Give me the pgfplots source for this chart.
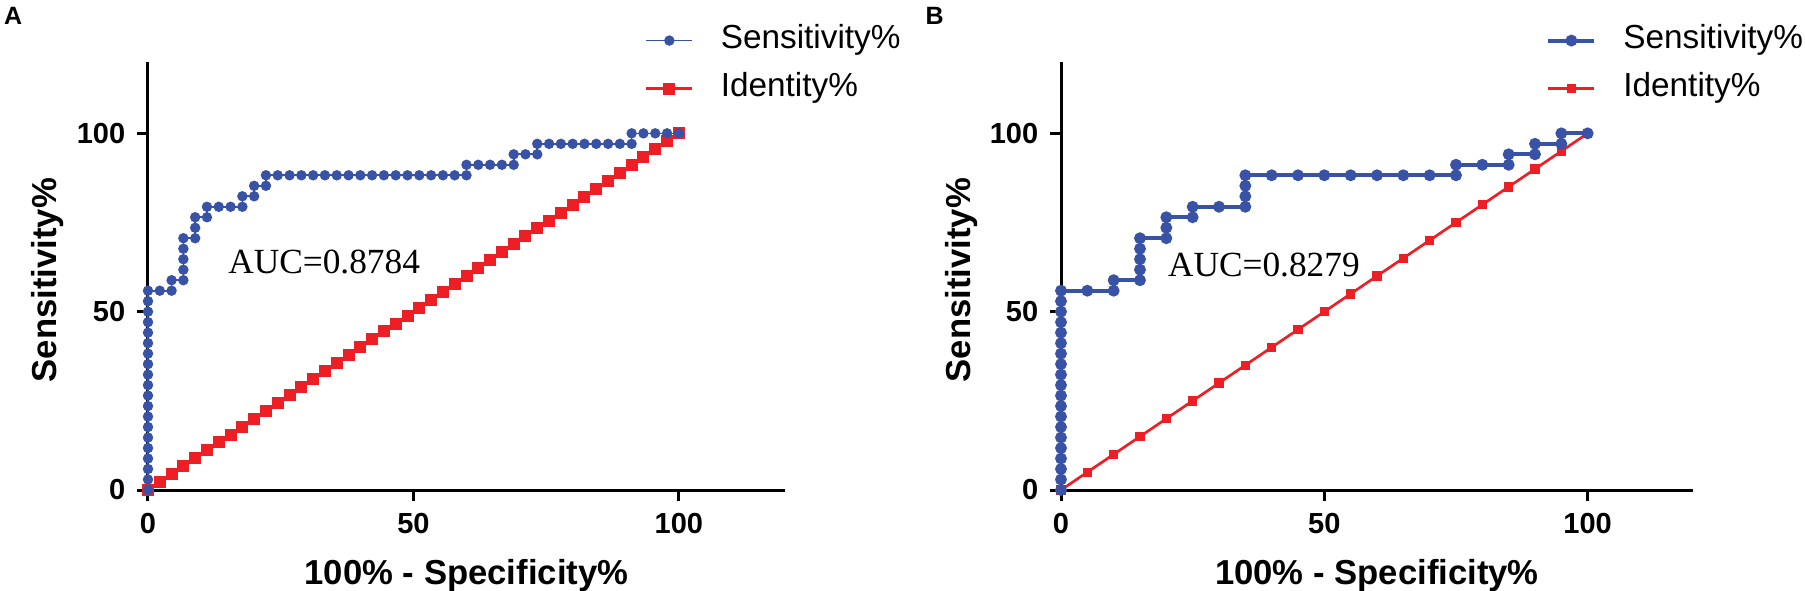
\documentclass[border=0pt]{standalone}
\usepackage{pgfplots}
\pgfplotsset{compat=1.18}
\usepackage{fontspec}
\setmainfont{Liberation Sans}
\newfontfamily\timesfont{Liberation Serif}
\definecolor{rocblue}{RGB}{56,82,166}
\definecolor{rocred}{RGB}{237,30,36}
\pgfplotsset{
  rocax/.style={
    scale only axis, height=128.4pt,
    xmin=0,xmax=120,ymin=0,ymax=120,
    axis x line=bottom, axis y line=left,
    axis line style={line width=0.9pt,-},
    xtick={0,50,100}, ytick={0,50,100},
    tick style={line width=0.9pt,black},
    tick align=outside, major tick length=3.3pt,
    /pgf/number format/assume math mode=true,
    ticklabel style={font=\bfseries\fontsize{8.7}{10}\selectfont},
    xlabel={100\% - Specificity\%}, ylabel={Sensitivity\%},
    every axis x label/.style={at={(axis description cs:0.5,-0.2)},anchor=center,
      font=\bfseries\fontsize{10.4}{12}\selectfont},
    every axis y label/.style={at={(axis description cs:-0.158,0.49)},anchor=center,rotate=90,
      font=\bfseries\fontsize{10.4}{12}\selectfont},
    clip=false,
    legend style={draw=none,fill=none,anchor=north west,inner sep=0pt,outer sep=0pt,
      font=\fontsize{10}{12}\selectfont, nodes={inner sep=0pt,outer sep=0pt,text height=7.5pt,text depth=2.5pt},
      column sep=8.1pt, row sep=4.4pt},
    legend cell align=left,
    legend image code/.code={\draw[mark repeat=2,mark phase=2,##1] plot coordinates {(0pt,0pt)(6.9pt,0pt)(13.8pt,0pt)};},
  },
}
\begin{document}
\begin{tikzpicture}
\useasboundingbox (0,0) rectangle (541.5pt,177pt);
\node[anchor=north west,inner sep=0pt,font=\bfseries\fontsize{7.5}{9}\selectfont] at (1pt,175pt) {A};
\node[anchor=north west,inner sep=0pt,font=\bfseries\fontsize{7.5}{9}\selectfont] at (277.5pt,175pt) {B};
% Panel A
\begin{axis}[rocax, width=191.1pt, at={(44.4pt,30pt)}, anchor=south west,
  legend style={at={(axis description cs:0.78,1.089)}}]
\addlegendimage{rocblue, line width=0.5pt, mark=*, mark size=1.3pt}
\addlegendentry{Sensitivity\%}
\addlegendimage{rocred, line width=0.9pt, mark=square*, mark size=1.35pt}
\addlegendentry{Identity\%}
\addplot[forget plot, rocred, line width=0.9pt, mark=square*, mark size=1.35pt] coordinates {
(0,0)(2.222,2.222)(4.444,4.444)(6.667,6.667)(8.889,8.889)(11.11,11.11)(13.33,13.33)(15.56,15.56)(17.78,17.78)(20,20)
(22.22,22.22)(24.44,24.44)(26.67,26.67)(28.89,28.89)(31.11,31.11)(33.33,33.33)(35.56,35.56)(37.78,37.78)(40,40)
(42.22,42.22)(44.44,44.44)(46.67,46.67)(48.89,48.89)(51.11,51.11)(53.33,53.33)(55.56,55.56)(57.78,57.78)(60,60)
(62.22,62.22)(64.44,64.44)(66.67,66.67)(68.89,68.89)(71.11,71.11)(73.33,73.33)(75.56,75.56)(77.78,77.78)(80,80)
(82.22,82.22)(84.44,84.44)(86.67,86.67)(88.89,88.89)(91.11,91.11)(93.33,93.33)(95.56,95.56)(97.78,97.78)(100,100)};
\addplot[forget plot, rocblue, line width=0.5pt, mark=*, mark size=1.3pt] coordinates {
(0,0)(0,2.941)(0,5.882)(0,8.824)(0,11.76)(0,14.71)(0,17.65)(0,20.59)(0,23.53)(0,26.47)(0,29.41)(0,32.35)(0,35.29)
(0,38.24)(0,41.18)(0,44.12)(0,47.06)(0,50)(0,52.94)(0,55.88)
(2.222,55.88)
(4.444,55.88)(4.444,58.82)
(6.667,58.82)(6.667,61.76)(6.667,64.71)(6.667,67.65)(6.667,70.59)
(8.889,70.59)(8.889,73.53)(8.889,76.47)
(11.11,76.47)(11.11,79.41)
(13.33,79.41)(15.56,79.41)(17.78,79.41)(17.78,82.35)
(20,82.35)(20,85.29)
(22.22,85.29)(22.22,88.24)
(24.44,88.24)(26.67,88.24)(28.89,88.24)(31.11,88.24)(33.33,88.24)(35.56,88.24)(37.78,88.24)(40,88.24)(42.22,88.24)
(44.44,88.24)(46.67,88.24)(48.89,88.24)(51.11,88.24)(53.33,88.24)(55.56,88.24)(57.78,88.24)(60,88.24)
(60,91.18)
(62.22,91.18)(64.44,91.18)(66.67,91.18)(68.89,91.18)(68.89,94.12)
(71.11,94.12)(73.33,94.12)(73.33,97.06)
(75.56,97.06)(77.78,97.06)(80,97.06)(82.22,97.06)(84.44,97.06)(86.67,97.06)(88.89,97.06)(91.11,97.06)(91.11,100)
(93.33,100)(95.56,100)(97.78,100)(100,100)};
\node[anchor=west,inner sep=0pt,font=\timesfont\fontsize{10.6}{12}\selectfont] at (axis cs:15,64) {AUC=0.8784};
\end{axis}
% Panel B
\begin{axis}[rocax, width=189.6pt, at={(318.3pt,30pt)}, anchor=south west,
  legend style={at={(axis description cs:0.768,1.089)}}]
\addlegendimage{rocblue, line width=1.2pt, mark=*, mark size=1.15pt}
\addlegendentry{Sensitivity\%}
\addlegendimage{rocred, line width=0.8pt, mark=square*, mark size=1pt}
\addlegendentry{Identity\%}
\addplot[forget plot, rocred, line width=0.8pt, mark=square*, mark size=1pt] coordinates {
(0,0)(5,5)(10,10)(15,15)(20,20)(25,25)(30,30)(35,35)(40,40)(45,45)(50,50)
(55,55)(60,60)(65,65)(70,70)(75,75)(80,80)(85,85)(90,90)(95,95)(100,100)};
\addplot[forget plot, rocblue, line width=1.2pt, mark=*, mark size=1.15pt] coordinates {
(0,0)(0,2.941)(0,5.882)(0,8.824)(0,11.76)(0,14.71)(0,17.65)(0,20.59)(0,23.53)(0,26.47)(0,29.41)(0,32.35)(0,35.29)
(0,38.24)(0,41.18)(0,44.12)(0,47.06)(0,50)(0,52.94)(0,55.88)
(5,55.88)(10,55.88)(10,58.82)
(15,58.82)(15,61.76)(15,64.71)(15,67.65)(15,70.59)
(20,70.59)(20,73.53)(20,76.47)
(25,76.47)(25,79.41)
(30,79.41)(35,79.41)(35,82.35)(35,85.29)(35,88.24)
(40,88.24)(45,88.24)(50,88.24)(55,88.24)(60,88.24)(65,88.24)(70,88.24)(75,88.24)
(75,91.18)(80,91.18)(85,91.18)(85,94.12)(90,94.12)(90,97.06)(95,97.06)(95,100)(100,100)};
\node[anchor=west,inner sep=0pt,font=\timesfont\fontsize{10.6}{12}\selectfont] at (axis cs:20.2,63) {AUC=0.8279};
\end{axis}
\end{tikzpicture}
\end{document}
